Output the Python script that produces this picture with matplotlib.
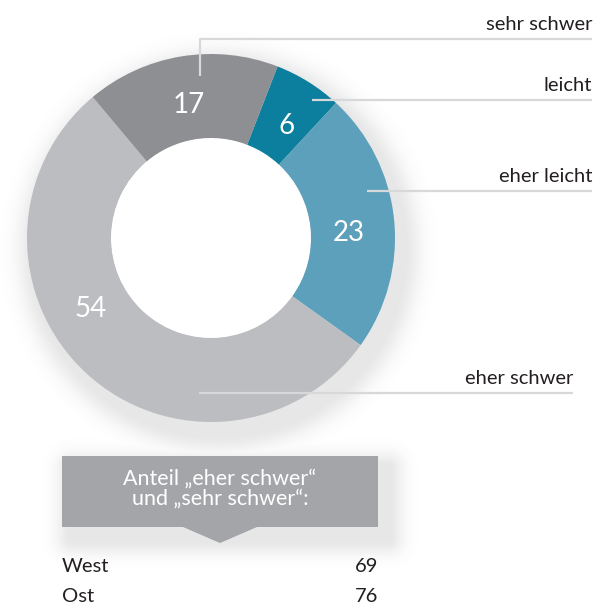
import numpy as np
import matplotlib
matplotlib.use("Agg")
import matplotlib.pyplot as plt
from matplotlib.patches import Polygon, Rectangle

# data, clockwise from the top right
categories = ["leicht", "eher leicht", "eher schwer", "sehr schwer"]
values = [6, 23, 54, 17]
colors = ["#0b7f9d", "#5ca0bb", "#bcbdc1", "#8e8f93"]

box_lines = ["Anteil „eher schwer“", "und „sehr schwer“:"]
regions = ["West", "Ost"]
region_values = [69, 76]

plt.rcParams['font.family'] = ['Lato', 'DejaVu Sans']

W, H = 607, 609
cx, cy = 211, H - 238
r_out, ring = 184, 84
line_col = "#d7d8da"
text_col = "#231f20"
fs = 14.5


def shadow_alpha(X, Y):
    # soft shadow of the donut, shifted down/right
    d = np.hypot(X - (cx + 8), Y - (cy - 12)) - r_out
    a1 = 0.16 * np.exp(-np.clip(d, 0, None) ** 2 / (2 * 13 ** 2))
    a1[np.hypot(X - cx, Y - cy) < r_out - ring] = 0
    # soft shadow of the box
    x0, x1, y0, y1 = 62 + 10, 378 + 10, H - 527 - 12, H - 456 - 12
    dx = np.maximum(np.maximum(x0 - X, X - x1), 0)
    dy = np.maximum(np.maximum(y0 - Y, Y - y1), 0)
    a2 = 0.16 * np.exp(-(dx ** 2 + dy ** 2) / (2 * 11 ** 2))
    return np.maximum(a1, a2)


fig = plt.figure(figsize=(W / 100, H / 100), dpi=100)
ax = fig.add_axes([0, 0, 1, 1])

xs = np.arange(W) + 0.5
ys = H - (np.arange(H) + 0.5)
X, Y = np.meshgrid(xs, ys)
img = np.zeros((H, W, 4))
img[..., :3] = 0.4
img[..., 3] = shadow_alpha(X, Y)
ax.imshow(img, extent=(0, W, 0, H), origin='upper', zorder=0, interpolation='bilinear')

wedges, _ = ax.pie(values, colors=colors, startangle=90 - 21.2, counterclock=False,
                   radius=r_out, center=(cx, cy),
                   wedgeprops=dict(width=ring, edgecolor='none'))
for w in wedges:
    w.set_zorder(2)

# number labels inside the ring
label_shift = [1.2, 2.4, 17.7, 0]   # degrees clockwise from wedge middle
for w, v, s in zip(wedges, values, label_shift):
    ang = np.deg2rad((w.theta1 + w.theta2) / 2 - s)
    ax.text(cx + 138 * np.cos(ang), cy + 138 * np.sin(ang) - 3, str(v), color='white',
            fontsize=20, ha='center', va='center', zorder=4)

# leader lines with category names
leaders = {
    "sehr schwer": ([200, 200, 592], [76, 39, 39]),
    "leicht": ([312, 592], [100, 100]),
    "eher leicht": ([367, 592], [191, 191]),
    "eher schwer": ([199, 573], [393, 393]),
}
for name in categories:
    lx, ly = leaders[name]
    ax.plot(lx, [H - v for v in ly], color=line_col, lw=1.6, zorder=3,
            solid_capstyle='butt')
    ax.text(lx[-1], H - ly[-1] + 9, name, color=text_col, fontsize=fs,
            ha='right', va='baseline', zorder=4)

# callout box
ax.add_patch(Rectangle((62, H - 527), 316, 71, color="#a4a5a9", zorder=2, lw=0))
ax.add_patch(Polygon([(183, H - 527), (257, H - 527), (220, H - 543)],
                     closed=True, color="#a4a5a9", zorder=2, lw=0))
for i, t in enumerate(box_lines):
    ax.text(220, H - 479 - 20 * i, t, color='white', fontsize=15.5,
            ha='center', va='center', zorder=4)

for i, (r, v) in enumerate(zip(regions, region_values)):
    yy = H - 566 - 31 * i
    ax.text(62, yy, r, color=text_col, fontsize=fs, ha='left', va='center')
    ax.text(378, yy, str(v), color=text_col, fontsize=fs, ha='right', va='center')

ax.set_xlim(0, W)
ax.set_ylim(0, H)
ax.set_aspect('auto')
ax.axis('off')

fig.savefig("out.png", dpi=100, facecolor='white')
